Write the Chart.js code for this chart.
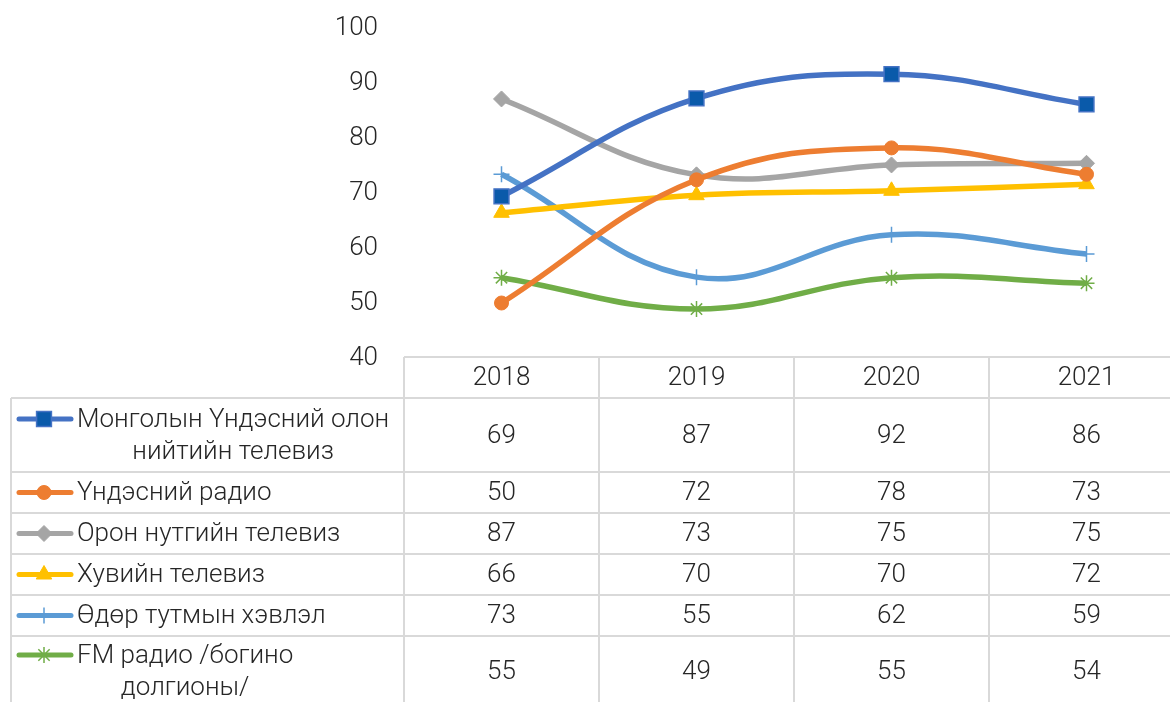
<!DOCTYPE html>
<html><head><meta charset="utf-8">
<script src="https://cdn.jsdelivr.net/npm/chart.js@4"></script>
<style>html,body{margin:0;padding:0;overflow:hidden;background:#fff}canvas{display:block}</style>
</head><body>
<canvas id="c" width="1190" height="702"></canvas>
<script>
// ---- data ----
const years = ['2018', '2019', '2020', '2021'];
const seriesLabels = [
  ['Монголын Үндэсний олон', 'нийтийн телевиз'],
  ['Үндэсний радио'],
  ['Орон нутгийн телевиз'],
  ['Хувийн телевиз'],
  ['Өдөр тутмын хэвлэл'],
  ['FM радио /богино', 'долгионы/']
];
const mnbTv     = [69.4, 87.2, 91.6, 86.1];
const natRadio  = [50.0, 72.4, 78.2, 73.4];
const localTv   = [87.1, 73.3, 75.1, 75.4];
const privateTv = [66.4, 69.6, 70.4, 71.6];
const dailyNews = [73.4, 54.7, 62.4, 58.9];
const fmRadio   = [54.6, 48.9, 54.6, 53.6];
const yTicks = [40, 50, 60, 70, 80, 90, 100];

// ---- styles ----
const FONT = 'Roboto, "Noto Sans", sans-serif';
const FONT_CSS = '300 26px ' + FONT;
const TXT = '#262626';
const styles = [
  {line: '#4472C4', fill: '#0A5AAA', border: '#4472C4', style: 'rect', r: 10.5, bw: 1.5},
  {line: '#ED7D31', fill: '#ED7D31', border: '#ED7D31', style: 'circle', r: 7, bw: 1},
  {line: '#A5A5A5', fill: '#A5A5A5', border: '#A5A5A5', style: 'rectRot', r: 8, bw: 1},
  {line: '#FFC000', fill: '#FFC000', border: '#FFC000', style: 'triangle', r: 9, bw: 1},
  {line: '#5B9BD5', fill: '#5B9BD5', border: '#5B9BD5', style: 'cross', r: 8, bw: 1.5},
  {line: '#70AD47', fill: '#70AD47', border: '#70AD47', style: 'star', r: 8, bw: 1.5}
];
const seriesData = [mnbTv, natRadio, localTv, privateTv, dailyNews, fmRadio];

const datasets = seriesData.map((d, i) => ({
  label: seriesLabels[i].join(' '),
  data: d,
  borderColor: styles[i].line,
  borderWidth: 5.5,
  tension: 0.4,
  pointStyle: styles[i].style,
  pointRadius: styles[i].r,
  pointBackgroundColor: styles[i].fill,
  pointBorderColor: styles[i].border,
  pointBorderWidth: styles[i].bw,
  fill: false
}));

// table layout (pixel rows)
const rowEdges = [357, 398, 472, 513, 554, 595, 636, 706];
const tableLeft = 11;

const tablePlugin = {
  id: 'dataTable',
  afterDraw(chart) {
    const ctx = chart.ctx;
    const xs = chart.scales.x;
    const area = chart.chartArea;
    const bandW = (area.right - area.left) / years.length;
    ctx.save();
    ctx.strokeStyle = '#D9D9D9';
    ctx.lineWidth = 2;
    ctx.beginPath();
    ctx.moveTo(area.left, rowEdges[0]); ctx.lineTo(chart.width, rowEdges[0]);
    for (let r = 1; r < rowEdges.length - 1; r++) {
      ctx.moveTo(tableLeft, rowEdges[r]); ctx.lineTo(chart.width, rowEdges[r]);
    }
    ctx.moveTo(tableLeft, rowEdges[1]); ctx.lineTo(tableLeft, chart.height);
    for (let c = 0; c <= years.length; c++) {
      const x = area.left + c * bandW;
      ctx.moveTo(x, rowEdges[0]); ctx.lineTo(x, chart.height);
    }
    ctx.stroke();

    ctx.fillStyle = TXT;
    ctx.font = FONT_CSS;
    ctx.textAlign = 'center';
    ctx.textBaseline = 'middle';
    years.forEach((y, i) => {
      ctx.fillText(y, xs.getPixelForValue(i), (rowEdges[0] + rowEdges[1]) / 2 + 1);
    });
    seriesData.forEach((d, s) => {
      const top = rowEdges[s + 1], bot = rowEdges[s + 2];
      const cy = s === 5 ? top + 35 : (top + bot) / 2;
      ctx.fillStyle = TXT;
      ctx.font = FONT_CSS;
      ctx.textAlign = 'center';
      d.forEach((v, i) => ctx.fillText(String(Math.round(v)), xs.getPixelForValue(i), cy + 1));
      const lines = seriesLabels[s];
      const lineH = 32;
      const firstY = lines.length > 1 ? cy - lineH / 2 : cy;
      const st = styles[s];
      ctx.strokeStyle = st.line;
      ctx.lineWidth = 5;
      ctx.lineCap = 'round';
      ctx.beginPath(); ctx.moveTo(19, firstY); ctx.lineTo(71, firstY); ctx.stroke();
      ctx.fillStyle = st.fill;
      ctx.strokeStyle = st.border;
      ctx.lineWidth = st.bw;
      ctx.lineCap = 'butt';
      Chart.helpers.drawPoint(ctx, {pointStyle: st.style, radius: st.r, borderWidth: st.bw, rotation: 0}, 44, firstY);
      ctx.fillStyle = TXT;
      ctx.font = FONT_CSS;
      const widths = lines.map(t => ctx.measureText(t).width);
      const blockW = Math.max(...widths);
      const x0 = 77;
      ctx.textAlign = 'center';
      lines.forEach((t, k) => ctx.fillText(t, x0 + blockW / 2, firstY + k * lineH + 1));
    });
    ctx.restore();
  }
};

new Chart(document.getElementById('c'), {
  type: 'line',
  data: { labels: years, datasets },
  options: {
    responsive: false,
    animation: false,
    devicePixelRatio: 1,
    layout: { autoPadding: false, padding: { top: 28, bottom: 702 - 358, left: 0, right: 6 } },
    plugins: { legend: { display: false }, tooltip: { enabled: false }, title: { display: false } },
    scales: {
      x: { type: 'category', offset: true, display: false },
      y: {
        min: 40, max: 100,
        afterBuildTicks: s => { s.ticks = yTicks.map(v => ({ value: v })); },
        afterFit: s => { s.width = 404; },
        grid: { display: false, drawTicks: true, tickLength: 26 },
        border: { display: false },
        ticks: { padding: 0, color: TXT, font: { family: FONT, size: 26, weight: '300' } }
      }
    }
  },
  plugins: [tablePlugin]
});
</script>
</body></html>
